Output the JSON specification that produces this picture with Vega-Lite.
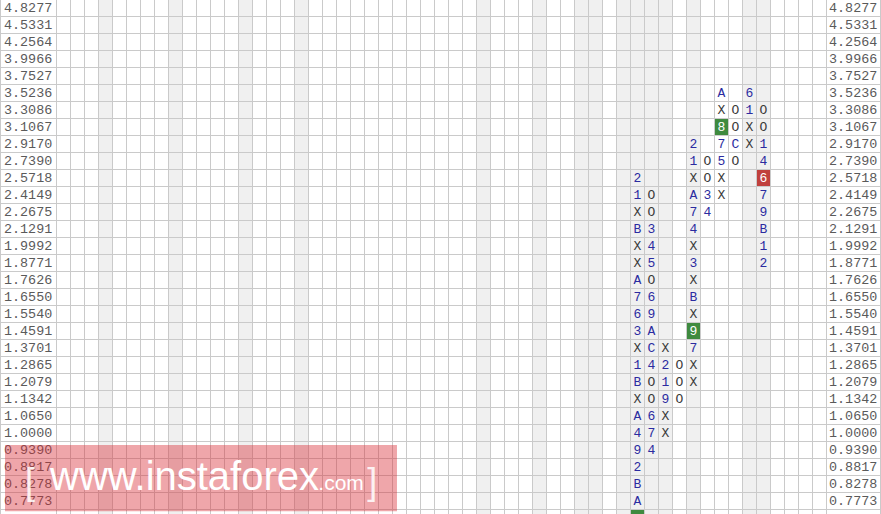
{
  "$schema": "https://vega.github.io/schema/vega-lite/v6.json",
  "width": 881,
  "height": 514,
  "autosize": {"type": "none"},
  "padding": 0,
  "background": "#ffffff",
  "config": {"view": {"stroke": null}, "axis": {"disable": true}},
  "resolve": {"scale": {"color": "independent"}},
  "datasets": {
    "levels": [
      {"row": 0, "price": "4.8277"}, {"row": 1, "price": "4.5331"}, {"row": 2, "price": "4.2564"},
      {"row": 3, "price": "3.9966"}, {"row": 4, "price": "3.7527"}, {"row": 5, "price": "3.5236"},
      {"row": 6, "price": "3.3086"}, {"row": 7, "price": "3.1067"}, {"row": 8, "price": "2.9170"},
      {"row": 9, "price": "2.7390"}, {"row": 10, "price": "2.5718"}, {"row": 11, "price": "2.4149"},
      {"row": 12, "price": "2.2675"}, {"row": 13, "price": "2.1291"}, {"row": 14, "price": "1.9992"},
      {"row": 15, "price": "1.8771"}, {"row": 16, "price": "1.7626"}, {"row": 17, "price": "1.6550"},
      {"row": 18, "price": "1.5540"}, {"row": 19, "price": "1.4591"}, {"row": 20, "price": "1.3701"},
      {"row": 21, "price": "1.2865"}, {"row": 22, "price": "1.2079"}, {"row": 23, "price": "1.1342"},
      {"row": 24, "price": "1.0650"}, {"row": 25, "price": "1.0000"}, {"row": 26, "price": "0.9390"},
      {"row": 27, "price": "0.8817"}, {"row": 28, "price": "0.8278"}, {"row": 29, "price": "0.7773"}
    ],
    "columns": [
      {"col": 0}, {"col": 1}, {"col": 2}, {"col": 3}, {"col": 4}, {"col": 5}, {"col": 6}, {"col": 7},
      {"col": 8}, {"col": 9}, {"col": 10}, {"col": 11}, {"col": 12}, {"col": 13}, {"col": 14}, {"col": 15},
      {"col": 16}, {"col": 17}, {"col": 18}, {"col": 19}, {"col": 20}, {"col": 21}, {"col": 22}, {"col": 23},
      {"col": 24}, {"col": 25}, {"col": 26}, {"col": 27}, {"col": 28}, {"col": 29}, {"col": 30}, {"col": 31},
      {"col": 32}, {"col": 33}, {"col": 34}, {"col": 35}, {"col": 36}, {"col": 37}, {"col": 38}, {"col": 39},
      {"col": 40}, {"col": 41}, {"col": 42}, {"col": 43}, {"col": 44}, {"col": 45}, {"col": 46}, {"col": 47},
      {"col": 48}, {"col": 49}, {"col": 50}, {"col": 51}, {"col": 52}, {"col": 53}, {"col": 54}
    ],
    "shaded": [
      {"col": 3}, {"col": 8}, {"col": 13}, {"col": 17}, {"col": 30}, {"col": 34}, {"col": 37},
      {"col": 38}, {"col": 40}, {"col": 41}, {"col": 42}, {"col": 43}, {"col": 45}, {"col": 49}, {"col": 50}
    ],
    "highlights": [
      {"col": 41, "row": 30, "tone": "up"},
      {"col": 45, "row": 19, "tone": "up"},
      {"col": 47, "row": 7, "tone": "up"},
      {"col": 50, "row": 10, "tone": "down"}
    ],
    "boxes": [
      {"col": 41, "row": 10, "s": "2", "k": "m"}, {"col": 41, "row": 11, "s": "1", "k": "m"},
      {"col": 41, "row": 12, "s": "X", "k": "xo"}, {"col": 41, "row": 13, "s": "B", "k": "m"},
      {"col": 41, "row": 14, "s": "X", "k": "xo"}, {"col": 41, "row": 15, "s": "X", "k": "xo"},
      {"col": 41, "row": 16, "s": "A", "k": "m"}, {"col": 41, "row": 17, "s": "7", "k": "m"},
      {"col": 41, "row": 18, "s": "6", "k": "m"}, {"col": 41, "row": 19, "s": "3", "k": "m"},
      {"col": 41, "row": 20, "s": "X", "k": "xo"}, {"col": 41, "row": 21, "s": "1", "k": "m"},
      {"col": 41, "row": 22, "s": "B", "k": "m"}, {"col": 41, "row": 23, "s": "X", "k": "xo"},
      {"col": 41, "row": 24, "s": "A", "k": "m"}, {"col": 41, "row": 25, "s": "4", "k": "m"},
      {"col": 41, "row": 26, "s": "9", "k": "m"}, {"col": 41, "row": 27, "s": "2", "k": "m"},
      {"col": 41, "row": 28, "s": "B", "k": "m"}, {"col": 41, "row": 29, "s": "A", "k": "m"},

      {"col": 42, "row": 11, "s": "O", "k": "xo"}, {"col": 42, "row": 12, "s": "O", "k": "xo"},
      {"col": 42, "row": 13, "s": "3", "k": "m"}, {"col": 42, "row": 14, "s": "4", "k": "m"},
      {"col": 42, "row": 15, "s": "5", "k": "m"}, {"col": 42, "row": 16, "s": "O", "k": "xo"},
      {"col": 42, "row": 17, "s": "6", "k": "m"}, {"col": 42, "row": 18, "s": "9", "k": "m"},
      {"col": 42, "row": 19, "s": "A", "k": "m"}, {"col": 42, "row": 20, "s": "C", "k": "m"},
      {"col": 42, "row": 21, "s": "4", "k": "m"}, {"col": 42, "row": 22, "s": "O", "k": "xo"},
      {"col": 42, "row": 23, "s": "O", "k": "xo"}, {"col": 42, "row": 24, "s": "6", "k": "m"},
      {"col": 42, "row": 25, "s": "7", "k": "m"}, {"col": 42, "row": 26, "s": "4", "k": "m"},

      {"col": 43, "row": 20, "s": "X", "k": "xo"}, {"col": 43, "row": 21, "s": "2", "k": "m"},
      {"col": 43, "row": 22, "s": "1", "k": "m"}, {"col": 43, "row": 23, "s": "9", "k": "m"},
      {"col": 43, "row": 24, "s": "X", "k": "xo"}, {"col": 43, "row": 25, "s": "X", "k": "xo"},

      {"col": 44, "row": 21, "s": "O", "k": "xo"}, {"col": 44, "row": 22, "s": "O", "k": "xo"},
      {"col": 44, "row": 23, "s": "O", "k": "xo"},

      {"col": 45, "row": 8, "s": "2", "k": "m"}, {"col": 45, "row": 9, "s": "1", "k": "m"},
      {"col": 45, "row": 10, "s": "X", "k": "xo"}, {"col": 45, "row": 11, "s": "A", "k": "m"},
      {"col": 45, "row": 12, "s": "7", "k": "m"}, {"col": 45, "row": 13, "s": "4", "k": "m"},
      {"col": 45, "row": 14, "s": "X", "k": "xo"}, {"col": 45, "row": 15, "s": "3", "k": "m"},
      {"col": 45, "row": 16, "s": "X", "k": "xo"}, {"col": 45, "row": 17, "s": "B", "k": "m"},
      {"col": 45, "row": 18, "s": "X", "k": "xo"}, {"col": 45, "row": 19, "s": "9", "k": "h"},
      {"col": 45, "row": 20, "s": "7", "k": "m"}, {"col": 45, "row": 21, "s": "X", "k": "xo"},
      {"col": 45, "row": 22, "s": "X", "k": "xo"},

      {"col": 46, "row": 9, "s": "O", "k": "xo"}, {"col": 46, "row": 10, "s": "O", "k": "xo"},
      {"col": 46, "row": 11, "s": "3", "k": "m"}, {"col": 46, "row": 12, "s": "4", "k": "m"},

      {"col": 47, "row": 5, "s": "A", "k": "m"}, {"col": 47, "row": 6, "s": "X", "k": "xo"},
      {"col": 47, "row": 7, "s": "8", "k": "h"}, {"col": 47, "row": 8, "s": "7", "k": "m"},
      {"col": 47, "row": 9, "s": "5", "k": "m"}, {"col": 47, "row": 10, "s": "X", "k": "xo"},
      {"col": 47, "row": 11, "s": "X", "k": "xo"},

      {"col": 48, "row": 6, "s": "O", "k": "xo"}, {"col": 48, "row": 7, "s": "O", "k": "xo"},
      {"col": 48, "row": 8, "s": "C", "k": "m"}, {"col": 48, "row": 9, "s": "O", "k": "xo"},

      {"col": 49, "row": 5, "s": "6", "k": "m"}, {"col": 49, "row": 6, "s": "1", "k": "m"},
      {"col": 49, "row": 7, "s": "X", "k": "xo"}, {"col": 49, "row": 8, "s": "X", "k": "xo"},

      {"col": 50, "row": 6, "s": "O", "k": "xo"}, {"col": 50, "row": 7, "s": "O", "k": "xo"},
      {"col": 50, "row": 8, "s": "1", "k": "m"}, {"col": 50, "row": 9, "s": "4", "k": "m"},
      {"col": 50, "row": 10, "s": "6", "k": "h"}, {"col": 50, "row": 11, "s": "7", "k": "m"},
      {"col": 50, "row": 12, "s": "9", "k": "m"}, {"col": 50, "row": 13, "s": "B", "k": "m"},
      {"col": 50, "row": 14, "s": "1", "k": "m"}, {"col": 50, "row": 15, "s": "2", "k": "m"}
    ]
  },
  "layer": [
    {
      "data": {"name": "shaded"},
      "mark": {"type": "rule", "strokeWidth": 13, "color": "#f0f0f0"},
      "encoding": {
        "x": {"field": "col", "type": "quantitative", "scale": {"domain": [-4.535714, 58.392857], "nice": false, "zero": false}}
      }
    },
    {
      "data": {"name": "columns"},
      "mark": {"type": "rule", "strokeWidth": 1, "color": "#cacaca", "xOffset": -7},
      "encoding": {
        "x": {"field": "col", "type": "quantitative"}
      }
    },
    {
      "data": {"values": [{}]},
      "mark": {"type": "rule", "strokeWidth": 1, "color": "#cacaca", "xOffset": 7},
      "encoding": {
        "x": {"datum": 54, "type": "quantitative"}
      }
    },
    {
      "data": {"values": [{}]},
      "mark": {"type": "rule", "strokeWidth": 1, "color": "#cacaca"},
      "encoding": {
        "x": {"datum": -4.5, "type": "quantitative"}
      }
    },
    {
      "data": {"values": [{}]},
      "mark": {"type": "rule", "strokeWidth": 1, "color": "#cacaca"},
      "encoding": {
        "x": {"datum": 58.357, "type": "quantitative"}
      }
    },
    {
      "data": {"name": "levels"},
      "mark": {"type": "rule", "strokeWidth": 1, "color": "#cacaca", "yOffset": 8.5},
      "encoding": {
        "y": {"field": "row", "type": "quantitative", "scale": {"domain": [-0.470588, 29.764706], "nice": false, "zero": false, "reverse": true}}
      }
    },
    {
      "data": {"name": "levels"},
      "mark": {"type": "text", "align": "left", "baseline": "middle", "font": "Liberation Mono", "fontSize": 13.4, "color": "#5a5a5a"},
      "encoding": {
        "x": {"datum": -4.25, "type": "quantitative"},
        "y": {"field": "row", "type": "quantitative"},
        "text": {"field": "price", "type": "nominal"}
      }
    },
    {
      "data": {"name": "levels"},
      "mark": {"type": "text", "align": "left", "baseline": "middle", "font": "Liberation Mono", "fontSize": 13.4, "color": "#5a5a5a"},
      "encoding": {
        "x": {"datum": 54.68, "type": "quantitative"},
        "y": {"field": "row", "type": "quantitative"},
        "text": {"field": "price", "type": "nominal"}
      }
    },
    {
      "data": {"name": "highlights"},
      "mark": {"type": "point", "shape": "M-0.8125,-1H0.8125V1H-0.8125Z", "size": 256, "filled": true, "opacity": 1, "strokeWidth": 0},
      "encoding": {
        "x": {"field": "col", "type": "quantitative"},
        "y": {"field": "row", "type": "quantitative"},
        "color": {"field": "tone", "type": "nominal", "scale": {"domain": ["up", "down"], "range": ["#3f8a3f", "#c0403d"]}, "legend": null}
      }
    },
    {
      "data": {"name": "boxes"},
      "mark": {"type": "text", "align": "center", "baseline": "middle", "font": "Liberation Mono", "fontSize": 13},
      "encoding": {
        "x": {"field": "col", "type": "quantitative"},
        "y": {"field": "row", "type": "quantitative"},
        "text": {"field": "s", "type": "nominal"},
        "color": {"field": "k", "type": "nominal", "scale": {"domain": ["xo", "m", "h"], "range": ["#3a3a3a", "#2b2ba0", "#ffffff"]}, "legend": null}
      }
    },
    {
      "data": {"values": [{}]},
      "mark": {"type": "rect", "color": "#d92a35", "opacity": 0.42},
      "encoding": {
        "x": {"datum": -4.179, "type": "quantitative"},
        "x2": {"datum": 23.82},
        "y": {"datum": 25.706, "type": "quantitative"},
        "y2": {"datum": 29.6}
      }
    },
    {
      "data": {"values": [{}]},
      "mark": {"type": "text", "align": "left", "baseline": "alphabetic", "font": "Liberation Sans", "fontSize": 40, "color": "#ffffff", "text": "www.instaforex"},
      "encoding": {
        "x": {"datum": -0.96, "type": "quantitative"},
        "y": {"datum": 28.35, "type": "quantitative"}
      }
    },
    {
      "data": {"values": [{}]},
      "mark": {"type": "text", "align": "left", "baseline": "alphabetic", "font": "Liberation Sans", "fontSize": 21, "color": "#ffffff", "text": ".com"},
      "encoding": {
        "x": {"datum": 18.2, "type": "quantitative"},
        "y": {"datum": 28.35, "type": "quantitative"}
      }
    },
    {
      "data": {"values": [{}]},
      "mark": {"type": "text", "align": "left", "baseline": "alphabetic", "font": "Liberation Sans", "fontSize": 36, "fontWeight": 300, "color": "#ffffff", "opacity": 0.85, "text": "["},
      "encoding": {
        "x": {"datum": -2.75, "type": "quantitative"},
        "y": {"datum": 28.6, "type": "quantitative"}
      }
    },
    {
      "data": {"values": [{}]},
      "mark": {"type": "text", "align": "left", "baseline": "alphabetic", "font": "Liberation Sans", "fontSize": 36, "fontWeight": 300, "color": "#ffffff", "opacity": 0.85, "text": "]"},
      "encoding": {
        "x": {"datum": 21.7, "type": "quantitative"},
        "y": {"datum": 28.6, "type": "quantitative"}
      }
    }
  ]
}
